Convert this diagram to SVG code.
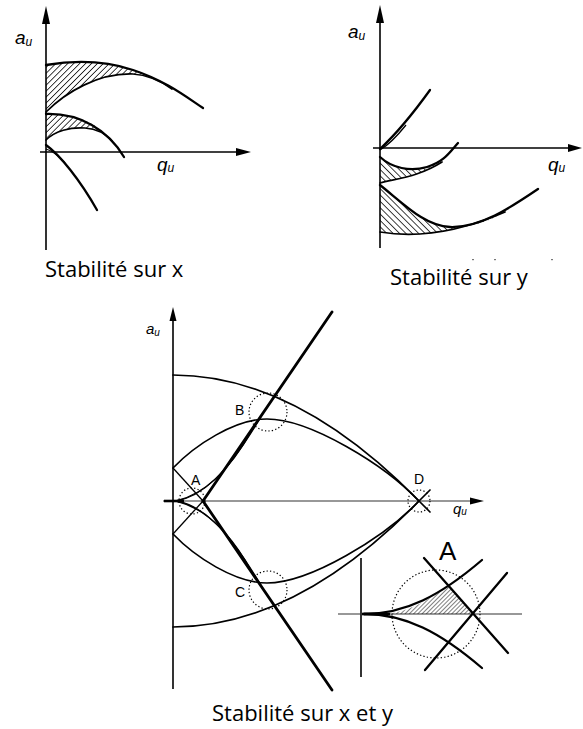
<svg xmlns="http://www.w3.org/2000/svg" width="583" height="729" viewBox="0 0 583 729">
<defs>
<style>
.ax{stroke:#000;stroke-width:1.6;fill:none}
.axg{stroke:#333;stroke-width:1.2;fill:none}
.ah{fill:#000}
.cv{stroke:#000;stroke-width:2.3;fill:none;stroke-linecap:round}
.cvm{stroke:#000;stroke-width:1.7;fill:none;stroke-linecap:round}
.thk{stroke:#000;stroke-width:2.8;fill:none;stroke-linecap:round}
.thin{stroke:#000;stroke-width:1.3;fill:none}
.dot{stroke:#000;stroke-width:1.2;fill:none;stroke-dasharray:1.3 2.2}
.lbl{font-family:"Liberation Sans",Arial,sans-serif;font-style:italic;fill:#000}
.pt{font-family:"Liberation Sans",Arial,sans-serif;font-size:14px;fill:#000}
.cap{font-family:"Open Sans",sans-serif;font-size:22px;fill:#000}
.hr{fill:url(#hatchR);stroke:none}
.hl{fill:url(#hatchL);stroke:none}
.hi{fill:url(#hatchI);stroke:none}
</style>
<pattern id="hatchR" patternUnits="userSpaceOnUse" width="4.2" height="4.2" patternTransform="rotate(45)"><line x1="0" y1="0" x2="0" y2="4.2" stroke="#000" stroke-width="1.5"/></pattern>
<pattern id="hatchL" patternUnits="userSpaceOnUse" width="4.5" height="4.5" patternTransform="rotate(-45)"><line x1="0" y1="0" x2="0" y2="4.5" stroke="#000" stroke-width="1.5"/></pattern>
<pattern id="hatchI" patternUnits="userSpaceOnUse" width="3" height="3" patternTransform="rotate(45)"><line x1="0" y1="0" x2="0" y2="3" stroke="#000" stroke-width="1"/></pattern>
</defs>
<rect width="583" height="729" fill="#fff"/>

<g id="plot-x">
  <path class="ax" d="M46,22 V250"/>
  <polygon class="ah" points="46,6 42,24 50,24"/>
  <path class="ax" d="M40,152 H238"/>
  <polygon class="ah" points="251,152 236,148 236,156"/>
  <path class="hr" d="M46,65 C70,61 100,59 133,70 C150,76 160,82 170,88 C160,81 150,75 133,74 C98,73 66,92 46,112 Z"/>
  <path class="hr" d="M46,114 C70,113 95,120 110,139 C104,132 96,128 85,128 C70,127 55,131 46,140 Z"/>
  <path class="cv" d="M46,65 C70,61 100,59 133,70 C166,81 185,96 203,108"/>
  <path class="cvm" d="M46,112 C66,92 98,73 133,74 C150,75 162,82 172,89"/>
  <path class="cv" d="M46,114 C80,113 108,130 124,157"/>
  <path class="cvm" d="M46,140 C55,131 70,127 85,128 C98,129 106,134 112,141"/>
  <path class="cv" d="M46,145 C60,155 80,180 97,210"/>
  <path class="thin" d="M46,149 C53,151 59,156 65,163"/>
  <text class="lbl" x="15" y="44" font-size="19">a<tspan font-size="12" dy="2">u</tspan></text>
  <text class="lbl" x="157" y="171" font-size="19">q<tspan font-size="12" dy="1">u</tspan></text>
</g>

<g id="plot-y">
  <path class="ax" d="M380,21 V248"/>
  <polygon class="ah" points="380,5 376,23 384,23"/>
  <path class="ax" d="M373,148 H570"/>
  <polygon class="ah" points="582,148 568,144 568,152"/>
  <path class="hl" d="M380,157 C392,168 410,172 427,167 C435,165 440,163 442,162 C420,176 400,178 380,183 Z"/>
  <path class="hl" d="M380,185 C405,205 425,226 450,227 C475,228 492,219 505,212 C450,236 410,237 380,232 Z"/>
  <path class="cv" d="M380,149 C395,135 412,115 430,90"/>
  <path class="thin" d="M380,150 C390,144 398,135 406,125"/>
  <path class="cv" d="M380,157 C392,168 410,172 427,167 C444,162 450,152 458,143"/>
  <path class="cvm" d="M380,183 C400,178 420,176 442,162"/>
  <path class="cv" d="M380,185 C405,205 425,226 450,227 C480,228 510,208 538,189"/>
  <path class="cvm" d="M380,232 C410,237 450,236 505,212"/>
  <text class="lbl" x="348" y="38" font-size="19">a<tspan font-size="12" dy="2">u</tspan></text>
  <text class="lbl" x="548" y="171" font-size="19">q<tspan font-size="12" dy="1">u</tspan></text>
  <rect x="472" y="259" width="2" height="1.2" fill="#777"/>
  <rect x="494" y="259" width="2" height="1.2" fill="#777"/>
  <rect x="551" y="259" width="2" height="1.2" fill="#777"/>
</g>

<g id="plot-xy">
  <path class="ax" d="M173,318 V689"/>
  <polygon class="ah" points="173,307 169.5,321 176.5,321"/>
  <path class="axg" d="M163,501 H473"/>
  <polygon class="ah" points="484,501 470,497.5 470,504.5"/>
  <path d="M164,501 H184" stroke="#000" stroke-width="2.6"/>
  <g id="upper-half">
    <path class="cvm" d="M173,375 Q296,375 419,501 L430,512"/>
    <path class="cvm" d="M173,468 C195,445 235,419 267,419 C310,419 385,465 419,501"/>
    <path class="thk" d="M203,501 L332,312"/>
    <path class="thin" d="M173,534 L203,501"/>
    <path class="thin" d="M176,501 C200,497 225,478 262,415"/>
    <path class="thin" d="M176,501 C205,494 230,470 252,430"/>
  </g>
  <use href="#upper-half" transform="matrix(1 0 0 -1 0 1002)"/>
  <circle class="dot" cx="192" cy="501" r="13"/>
  <circle class="dot" cx="268" cy="412" r="19"/>
  <circle class="dot" cx="268" cy="590" r="19"/>
  <circle class="dot" cx="419" cy="501" r="11"/>
  <text class="pt" x="191" y="485">A</text>
  <text class="pt" x="235" y="415">B</text>
  <text class="pt" x="235" y="597">C</text>
  <text class="pt" x="414" y="484">D</text>
  <text class="lbl" x="146" y="334" font-size="15">a<tspan font-size="10" dy="2">u</tspan></text>
  <text class="lbl" x="453" y="514" font-size="15">q<tspan font-size="10" dy="1">u</tspan></text>
</g>

<g id="inset-A">
  <path class="ax" d="M361,558 V677" stroke-width="1.4"/>
  <path class="axg" d="M338,614 H522"/>
  <path class="hi" d="M385,614 C405,613 430,600 448,586 L474,614 Z"/>
  <circle class="dot" cx="436" cy="614" r="44" stroke-width="1.6"/>
  <path class="cv" d="M364,614 C405,614 440,596 482,560"/>
  <path class="cv" d="M364,614 C405,614 440,632 482,668"/>
  <path d="M362,614 H390" stroke="#000" stroke-width="2.6"/>
  <path class="cv" d="M424,558 L508,653"/>
  <path class="cv" d="M507,573 L425,670"/>
  <text x="439" y="560" font-family="Liberation Sans, Arial, sans-serif" font-size="26">A</text>
</g>

<g id="captions">
  <text class="cap" x="45" y="277">Stabilité sur x</text>
  <text class="cap" x="390" y="285">Stabilité sur y</text>
  <text class="cap" x="212" y="721">Stabilité sur x et y</text>
</g>
</svg>
